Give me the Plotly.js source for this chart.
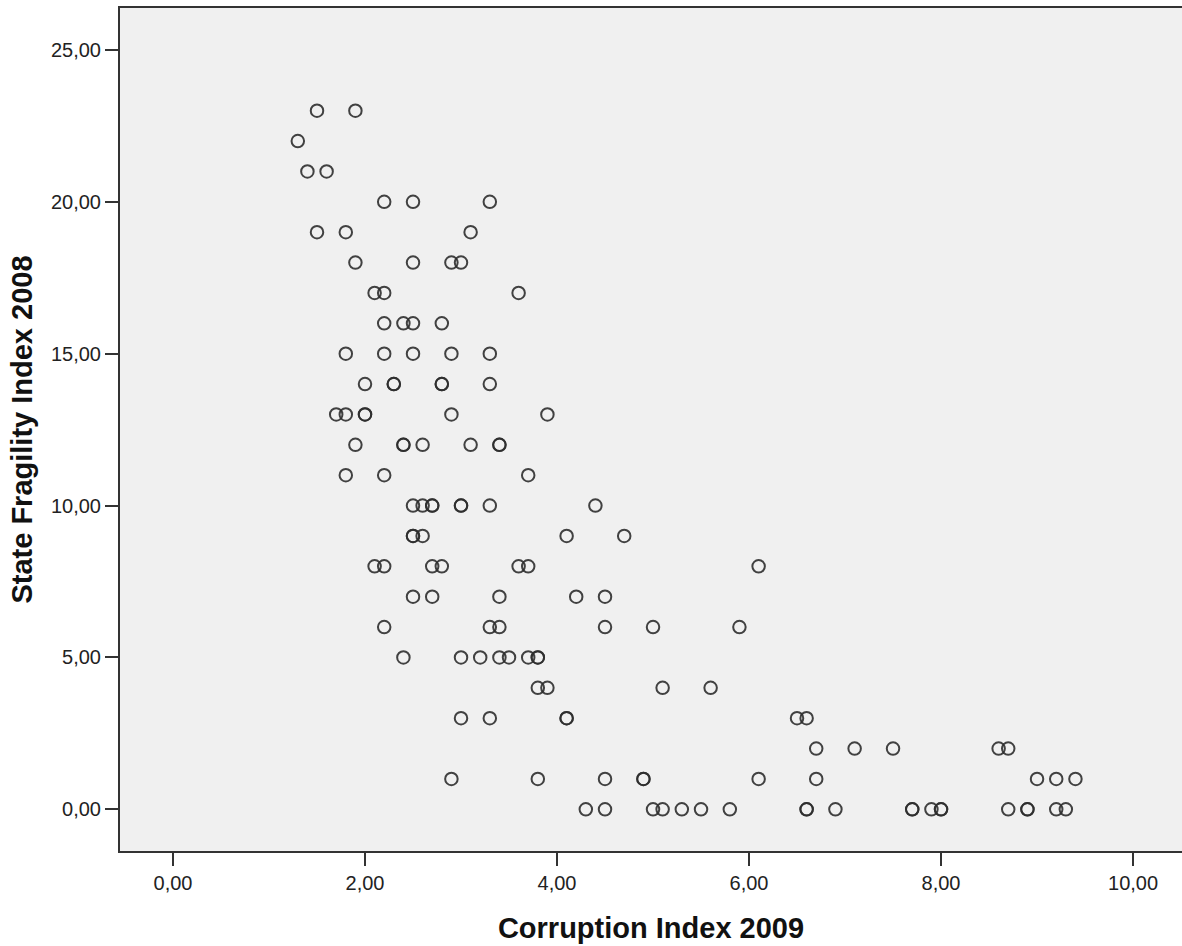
<!DOCTYPE html>
<html>
<head>
<meta charset="utf-8">
<script src="https://cdn.plot.ly/plotly-3.0.1.min.js"></script>
<style>html,body{margin:0;padding:0;background:#fff;}#chart{width:1182px;height:946px;}</style>
</head>
<body>
<div id="chart"></div>
<script>
// Corruption Index 2009 (x) and State Fragility Index 2008 (y), read row by row
var corruption = [
  1.5, 1.9,
  1.3,
  1.4, 1.6,
  2.2, 2.5, 3.3,
  1.5, 1.8, 3.1,
  1.9, 2.5, 2.9, 3.0,
  2.1, 2.2, 3.6,
  2.2, 2.4, 2.5, 2.8,
  1.8, 2.2, 2.5, 2.9, 3.3,
  2.0, 2.3, 2.3, 2.8, 2.8, 3.3,
  1.7, 1.8, 2.0, 2.0, 2.9, 3.9,
  1.9, 2.4, 2.4, 2.6, 3.1, 3.4, 3.4,
  1.8, 2.2, 3.7,
  2.5, 2.6, 2.7, 2.7, 3.0, 3.0, 3.3, 4.4,
  2.5, 2.5, 2.6, 4.1, 4.7,
  2.1, 2.2, 2.7, 2.8, 3.6, 3.7, 6.1,
  2.5, 2.7, 3.4, 4.2, 4.5,
  2.2, 3.3, 3.4, 4.5, 5.0, 5.9,
  2.4, 3.0, 3.2, 3.4, 3.5, 3.7, 3.8, 3.8,
  3.8, 3.9, 5.1, 5.6,
  3.0, 3.3, 4.1, 4.1, 6.5, 6.6,
  6.7, 7.1, 7.5, 8.6, 8.7,
  2.9, 3.8, 4.5, 4.9, 4.9, 6.1, 6.7, 9.0, 9.2, 9.4,
  4.3, 4.5, 5.0, 5.1, 5.3, 5.5, 5.8, 6.6, 6.6, 6.9, 7.7, 7.7, 7.9, 8.0, 8.0, 8.7, 8.9, 8.9, 9.2, 9.3
];
var fragility = [
  23, 23,
  22,
  21, 21,
  20, 20, 20,
  19, 19, 19,
  18, 18, 18, 18,
  17, 17, 17,
  16, 16, 16, 16,
  15, 15, 15, 15, 15,
  14, 14, 14, 14, 14, 14,
  13, 13, 13, 13, 13, 13,
  12, 12, 12, 12, 12, 12, 12,
  11, 11, 11,
  10, 10, 10, 10, 10, 10, 10, 10,
  9, 9, 9, 9, 9,
  8, 8, 8, 8, 8, 8, 8,
  7, 7, 7, 7, 7,
  6, 6, 6, 6, 6, 6,
  5, 5, 5, 5, 5, 5, 5, 5,
  4, 4, 4, 4,
  3, 3, 3, 3, 3, 3,
  2, 2, 2, 2, 2,
  1, 1, 1, 1, 1, 1, 1, 1, 1, 1,
  0, 0, 0, 0, 0, 0, 0, 0, 0, 0, 0, 0, 0, 0, 0, 0, 0, 0, 0, 0
];
var xTickVals = [0, 2, 4, 6, 8, 10];
var xTickText = ["0,00", "2,00", "4,00", "6,00", "8,00", "10,00"];
var yTickVals = [0, 5, 10, 15, 20, 25];
var yTickText = ["0,00", "5,00", "10,00", "15,00", "20,00", "25,00"];

var trace = {
  type: 'scatter',
  mode: 'markers',
  x: corruption,
  y: fragility,
  marker: {
    symbol: 'circle-open',
    size: 12.5,
    color: 'rgba(45,45,45,0.9)',
    line: {width: 2, color: 'rgba(45,45,45,0.9)'}
  },
  hoverinfo: 'x+y'
};

var axisCommon = {
  showgrid: false,
  zeroline: false,
  showline: true,
  linecolor: '#333333',
  linewidth: 2,
  mirror: true,
  ticks: 'outside',
  ticklen: 13,
  tickwidth: 2,
  tickcolor: '#333333',
  tickfont: {family: 'Liberation Sans, Arial, sans-serif', size: 20, color: '#222222'}
};

var titleFont = {family: 'Liberation Sans, Arial, sans-serif', size: 29, color: '#111111', weight: 'bold'};

var layout = {
  width: 1182,
  height: 946,
  margin: {l: 120, r: 0, t: 8, b: 95},
  paper_bgcolor: '#ffffff',
  plot_bgcolor: '#f0f0f0',
  showlegend: false,
  xaxis: Object.assign({}, axisCommon, {
    range: [-0.552, 10.51],
    tickmode: 'array',
    tickvals: xTickVals,
    ticktext: xTickText,
    title: {text: 'Corruption Index 2009', standoff: 25, font: titleFont}
  }),
  yaxis: Object.assign({}, axisCommon, {
    range: [-1.373, 26.38],
    tickmode: 'array',
    tickvals: yTickVals,
    ticktext: yTickText,
    title: {text: 'State Fragility Index 2008', standoff: 10, font: titleFont}
  })
};

Plotly.newPlot('chart', [trace], layout, {displayModeBar: false, staticPlot: true});
</script>
</body>
</html>
